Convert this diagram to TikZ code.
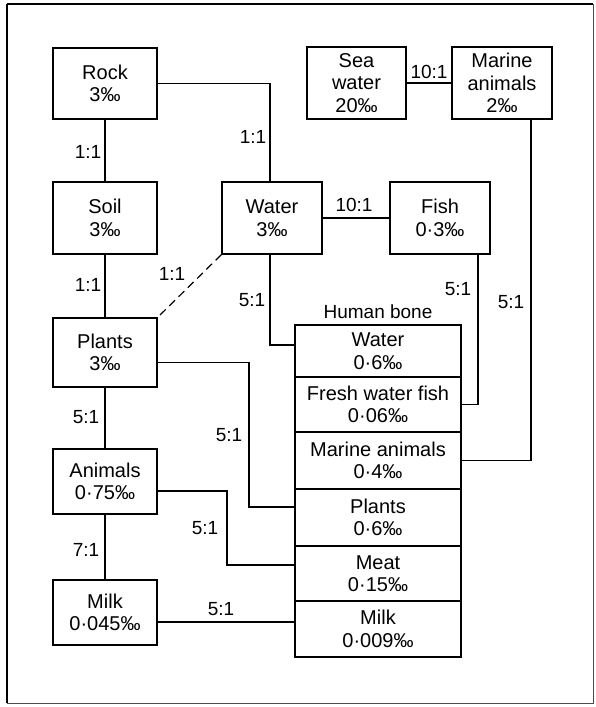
\documentclass[tikz,border=0pt]{standalone}
\usepackage{fontspec}
\setmainfont{Liberation Sans}
\begin{document}
\begin{tikzpicture}[x=1pt,y=-1pt,
  box/.style={draw, line width=1.3pt, align=center, inner sep=0pt,
    font=\fontsize{20}{22.5}\selectfont},
  lbl/.style={inner sep=0pt, font=\fontsize{19}{20}\selectfont},
  conn/.style={line width=1.2pt},
  frame/.style={line width=1.2pt}]
\useasboundingbox (0,0) rectangle (595,707);
% outer frame
\draw[frame] (7,4) -- (593,4);
\draw[line width=2pt] (7,4) -- (7,703);
\draw[line width=0.8pt, black!70] (7,703) -- (593,703) -- (593,4);

% left column
\node[box, minimum width=104pt, minimum height=71pt] (rock) at (105,83.5) {Rock\\3‰};
\node[box, minimum width=104pt, minimum height=72pt] (soil) at (105,218) {Soil\\3‰};
\node[box, minimum width=104pt, minimum height=69pt] (plants) at (105,352.5) {Plants\\3‰};
\node[box, minimum width=104pt, minimum height=65pt] (animals) at (105,481.5) {Animals\\0·75‰};
\node[box, minimum width=104pt, minimum height=65pt] (milk) at (105,612.5) {Milk\\0·045‰};

% middle / right
\node[box, minimum width=100pt, minimum height=72pt] (water) at (272,218) {Water\\3‰};
\node[box, minimum width=100pt, minimum height=72pt] (fish) at (440,218) {Fish\\0·3‰};
\node[box, minimum width=99pt, minimum height=72pt] (sea) at (356.5,83) {Sea\\water\\20‰};
\node[box, minimum width=100pt, minimum height=72pt] (marine) at (502,83) {Marine\\animals\\2‰};

% human bone stack
\node[lbl] (hbone) at (378,312) {Human bone};
\node[box, minimum width=166pt, minimum height=52pt] (hwater) at (378,351) {Water\\0·6‰};
\node[box, minimum width=166pt, minimum height=55pt] (hfish) at (378,404.5) {Fresh water fish\\0·06‰};
\node[box, minimum width=166pt, minimum height=57pt] (hmarine) at (378,460.5) {Marine animals\\0·4‰};
\node[box, minimum width=166pt, minimum height=57pt] (hplants) at (378,517.5) {Plants\\0·6‰};
\node[box, minimum width=166pt, minimum height=55pt] (hmeat) at (378,573.5) {Meat\\0·15‰};
\node[box, minimum width=166pt, minimum height=56pt] (hmilk) at (378,629) {Milk\\0·009‰};

% connectors
\draw[conn] (rock) -- (soil);
\draw[conn] (soil) -- (plants);
\draw[conn] (plants) -- (animals);
\draw[conn] (animals) -- (milk);
\draw[conn] (rock.east) -| ([xshift=-2pt]water.north);
\draw[conn, dash pattern=on 8pt off 5pt] (water.south west) -- (plants.north east);
\draw[conn] ([xshift=-2pt]water.south) |- ([yshift=6pt]hwater.west);
\draw[conn] (water.east) -- (fish.west);
\draw[conn] (sea.east) -- (marine.west);
\draw[conn] ([xshift=38pt]fish.south) |- (hfish.east);
\draw[conn] ([xshift=29pt]marine.south) |- (hmarine.east);
\coordinate (pbend) at (249,507);
\draw[conn] ([yshift=-10pt]plants.east) -| (pbend) -- (pbend -| hplants.west);
\coordinate (abend) at (227,565);
\draw[conn] ([yshift=-9.5pt]animals.east) -| (abend) -- (abend -| hmeat.west);
\coordinate (mk) at ([yshift=-9.5pt]milk.east);
\draw[conn] (mk) -- (mk -| hmilk.west);

% ratio labels
\node[lbl] (l1) at (88,152) {1:1};
\node[lbl] (l2) at (88,285) {1:1};
\node[lbl] (l3) at (86,417) {5:1};
\node[lbl] (l4) at (86,550) {7:1};
\node[lbl] (l5) at (253,137) {1:1};
\node[lbl] (l6) at (172,274) {1:1};
\node[lbl] (l7) at (252,300) {5:1};
\node[lbl] (l8) at (429,72) {10:1};
\node[lbl] (l9) at (354,205) {10:1};
\node[lbl] (l10) at (458,289) {5:1};
\node[lbl] (l11) at (511,302) {5:1};
\node[lbl] (l12) at (229,435) {5:1};
\node[lbl] (l13) at (205,528) {5:1};
\node[lbl] (l14) at (221,609) {5:1};
\end{tikzpicture}
\end{document}
